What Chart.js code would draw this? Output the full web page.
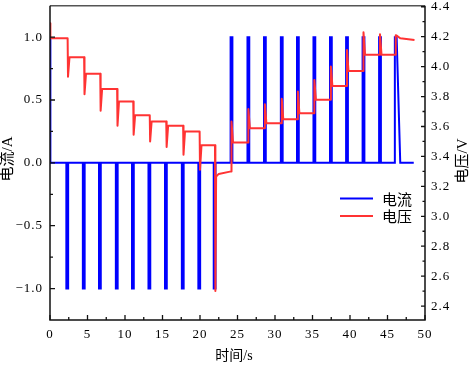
<!DOCTYPE html>
<html><head><meta charset="utf-8">
<script src="https://cdn.jsdelivr.net/npm/chart.js@4.4.0/dist/chart.umd.min.js"></script>
<style>html,body{margin:0;padding:0;background:#fff;}canvas{display:block;}</style>
</head><body>
<canvas id="c" width="472" height="365"></canvas>
<script>
// ---------- values ----------
const seriesNames = ['电流', '电压'];
const axisTitles = {x: '时间/s', left: '电流/A', right: '电压/V'};

const xTickValues = [0, 5, 10, 15, 20, 25, 30, 35, 40, 45, 50];
const xMinorTickValues = [2.5, 7.5, 12.5, 17.5, 22.5, 27.5, 32.5, 37.5, 42.5, 47.5];
const currentTickValues = [-1.0, -0.5, 0.0, 0.5, 1.0];
const currentMinorTickValues = [-0.75, -0.25, 0.25, 0.75];
const voltageTickValues = [2.4, 2.6, 2.8, 3.0, 3.2, 3.4, 3.6, 3.8, 4.0, 4.2, 4.4];
const voltageMinorTickValues = [2.5, 2.7, 2.9, 3.1, 3.3, 3.5, 3.7, 3.9, 4.1, 4.3];

// current (A): start spike, discharge pulses, charge pulses
const startCurrentTime = [0, 0.05];
const startCurrent = [1.0, 0.0];
const dischargeTimes = [2.3, 4.5, 6.65, 8.9, 11.05, 13.25, 15.45, 17.7, 19.9, 21.95];
const dischargeCurrent = [-1, -1, -1, -1, -1, -1, -1, -1, -1, -1];
const chargeTimes = [24.2, 26.45, 28.65, 30.9, 33.05, 35.25, 37.45, 39.6, 41.8, 44.0, 46.1];
const chargeCurrent = [1, 1, 1, 1, 1, 1, 1, 1, 1, 1, 1];
const endCurrentTime = [46.7, 48.5];
const endCurrent = [0.0, 0.0];

// voltage (V)
const startVoltTime = [0, 0.05];
const startVolt = [4.29, 4.19];
const dischargeRestVolt = [4.19, 4.063, 3.953, 3.851, 3.767, 3.675, 3.633, 3.605, 3.567, 3.475];
const dischargeDipVolt = [3.933, 3.816, 3.705, 3.605, 3.545, 3.50, 3.463, 3.411, 3.311, 2.50];
const relaxTime = [22.15, 22.5, 24.15];
const relaxVolt = [3.265, 3.283, 3.30];
const chargePeakVolt = [3.633, 3.716, 3.749, 3.785, 3.833, 3.911, 4.00, 4.111, 4.229, 4.216, 4.21];
const chargeRestVolt = [3.493, 3.589, 3.622, 3.649, 3.689, 3.778, 3.871, 3.971, 4.08, 4.08, 4.205];
const endVoltTime = [46.7, 48.6];
const endVolt = [4.19, 4.178];

// ---------- build point tables ----------
const W = 0.12; // half pulse width (s)
const currentPts = [];
startCurrentTime.forEach((t, i) => currentPts.push({x: t, y: startCurrent[i]}));
dischargeTimes.forEach((t, i) => {
  currentPts.push({x: t - W, y: 0}, {x: t - W, y: dischargeCurrent[i]},
                  {x: t + W, y: dischargeCurrent[i]}, {x: t + W, y: 0});
});
chargeTimes.forEach((t, i) => {
  currentPts.push({x: t - W, y: 0}, {x: t - W, y: chargeCurrent[i]}, {x: t + W, y: chargeCurrent[i]});
  if (i < chargeTimes.length - 1) currentPts.push({x: t + W, y: 0});
});
endCurrentTime.forEach((t, i) => currentPts.push({x: t, y: endCurrent[i]}));

const voltPts = [];
startVoltTime.forEach((t, i) => voltPts.push({x: t, y: startVolt[i]}));
dischargeTimes.forEach((t, i) => {
  const te = t + 0.05;
  voltPts.push({x: te, y: dischargeRestVolt[i]}, {x: te + 0.05, y: dischargeDipVolt[i]});
  if (i < dischargeTimes.length - 1) voltPts.push({x: te + 0.25, y: dischargeRestVolt[i + 1]});
});
relaxTime.forEach((t, i) => voltPts.push({x: t, y: relaxVolt[i]}));
chargeTimes.forEach((t, i) => {
  const prev = i === 0 ? relaxVolt[relaxVolt.length - 1] : chargeRestVolt[i - 1];
  voltPts.push({x: t, y: prev}, {x: t, y: chargePeakVolt[i]}, {x: t + 0.2, y: chargeRestVolt[i]});
});
endVoltTime.forEach((t, i) => voltPts.push({x: t, y: endVolt[i]}));

// ---------- chart ----------
const BLUE = '#0000ff', RED = '#ff3333';
const tickFont = {family: 'Liberation Serif', size: 13};
const setTicks = vals => s => { s.ticks = vals.map(v => ({value: v})); };
const fmt1 = v => v.toFixed(1).replace('-', '\u2212');

const deco = {
  id: 'deco',
  beforeDraw(chart) { chart.ctx.letterSpacing = '1px'; },
  beforeDatasetsDraw(chart) { chart.ctx.letterSpacing = '0px'; },
  afterDraw(chart) {
    const ctx = chart.ctx, a = chart.chartArea;
    const sx = chart.scales.x, sl = chart.scales.yI, sr = chart.scales.yV;
    ctx.save();
    ctx.letterSpacing = '0px';
    // frame
    ctx.lineWidth = 1.5;
    ctx.strokeStyle = '#555';
    ctx.beginPath(); ctx.moveTo(a.left, a.top); ctx.lineTo(a.right, a.top); ctx.stroke();
    ctx.strokeStyle = '#111';
    ctx.beginPath();
    ctx.moveTo(a.left, a.top); ctx.lineTo(a.left, a.bottom); ctx.lineTo(a.right, a.bottom); ctx.lineTo(a.right, a.top);
    ctx.stroke();
    // inward ticks
    ctx.lineWidth = 1.3;
    ctx.beginPath();
    const tk = (vals, len, fn) => vals.forEach(v => fn(v, len));
    const xt = (v, len) => { const p = sx.getPixelForValue(v); ctx.moveTo(p, a.bottom); ctx.lineTo(p, a.bottom - len); };
    const lt = (v, len) => { const p = sl.getPixelForValue(v); ctx.moveTo(a.left, p); ctx.lineTo(a.left + len, p); };
    const rt = (v, len) => { const p = sr.getPixelForValue(v); ctx.moveTo(a.right, p); ctx.lineTo(a.right - len, p); };
    tk(xTickValues, 5, xt); tk(xMinorTickValues, 3, xt);
    tk(currentTickValues, 5, lt); tk(currentMinorTickValues, 3, lt);
    tk(voltageTickValues, 4, rt); tk(voltageMinorTickValues, 2.5, rt);
    ctx.stroke();
    // axis titles
    ctx.fillStyle = '#000';
    ctx.textAlign = 'center'; ctx.textBaseline = 'middle';
    ctx.font = '14px "Liberation Serif", "Noto Sans CJK SC"';
    ctx.fillText(axisTitles.x, 234, 356);
    ctx.font = '15px "Liberation Serif", "Noto Sans CJK SC"';
    ctx.save(); ctx.translate(8, 159); ctx.rotate(-Math.PI / 2); ctx.fillText(axisTitles.left, 0, 0); ctx.restore();
    ctx.save(); ctx.translate(463, 161); ctx.rotate(-Math.PI / 2); ctx.fillText(axisTitles.right, 0, 0); ctx.restore();
    // legend
    const order = [1, 0];
    ctx.font = '15px "Noto Sans CJK SC"';
    ctx.textAlign = 'left';
    order.forEach((di, k) => {
      const ds = chart.data.datasets[di];
      const y = 198.5 + k * 17.5;
      ctx.strokeStyle = ds.borderColor; ctx.lineWidth = 2;
      ctx.beginPath(); ctx.moveTo(340, y); ctx.lineTo(373, y); ctx.stroke();
      ctx.fillStyle = '#000';
      ctx.fillText(ds.label, 382, y + 0.5);
    });
    ctx.restore();
  }
};

new Chart(document.getElementById('c'), {
  type: 'line',
  data: {
    datasets: [
      {label: seriesNames[1], data: voltPts, yAxisID: 'yV', borderColor: RED, borderWidth: 2,
       borderJoinStyle: 'round', pointRadius: 0, tension: 0, fill: false},
      {label: seriesNames[0], data: currentPts, yAxisID: 'yI', borderColor: BLUE, borderWidth: 2,
       borderJoinStyle: 'miter', pointRadius: 0, tension: 0, fill: false}
    ]
  },
  options: {
    responsive: false, animation: false, devicePixelRatio: 1,
    layout: {padding: {top: 5.7, left: 0, right: 0, bottom: 0}},
    plugins: {legend: {display: false}, tooltip: {enabled: false}},
    scales: {
      x: {type: 'linear', position: 'bottom', min: 0, max: 50,
        grid: {display: false, drawTicks: false}, border: {display: false},
        ticks: {font: tickFont, color: '#000', padding: 7, autoSkip: false, maxRotation: 0, callback: v => String(v)},
        afterBuildTicks: setTicks(xTickValues),
        afterFit: s => { s.height = 45; s.paddingLeft = 0; s.paddingRight = 0; }},
      yI: {type: 'linear', position: 'left', min: -1.25, max: 1.25,
        grid: {display: false, drawTicks: false}, border: {display: false},
        ticks: {font: tickFont, color: '#000', padding: 7, autoSkip: false, callback: v => fmt1(v)},
        afterBuildTicks: setTicks(currentTickValues),
        afterFit: s => { s.width = 50; s.paddingTop = 0; s.paddingBottom = 0; }},
      yV: {type: 'linear', position: 'right', min: 2.307, max: 4.407,
        grid: {display: false, drawTicks: false}, border: {display: false},
        ticks: {font: tickFont, color: '#000', padding: 6, autoSkip: false, callback: v => fmt1(v)},
        afterBuildTicks: setTicks(voltageTickValues),
        afterFit: s => { s.width = 47; s.paddingTop = 0; s.paddingBottom = 0; }}
    }
  },
  plugins: [deco]
});
</script>
</body></html>
